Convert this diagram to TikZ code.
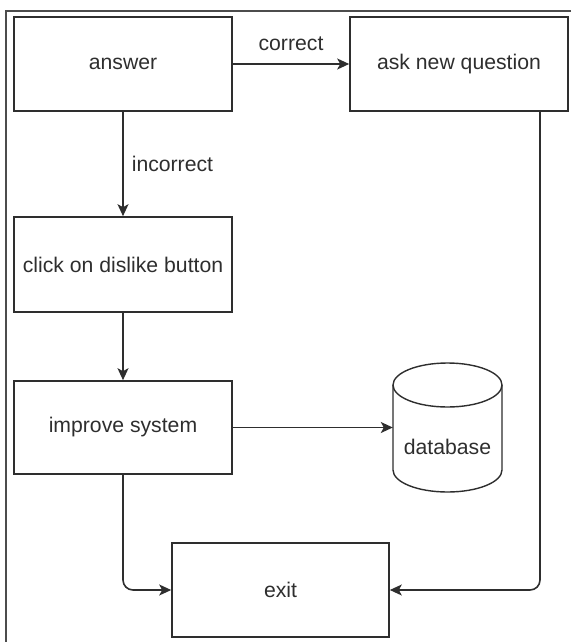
\documentclass[tikz,border=0pt]{standalone}
\usepackage{fontspec}
\setmainfont{Liberation Sans}
\usetikzlibrary{arrows.meta}
\definecolor{ink}{HTML}{2E2E2E}
\tikzset{
  box/.style={draw=ink, line width=1.6pt, rectangle, minimum width=218pt, minimum height=94pt, inner sep=0pt, text=ink, font=\fontsize{21.2}{25}\selectfont},
  conn/.style={draw=ink, line width=1.6pt, -{Stealth[length=12pt,width=11pt,inset=3pt]}},
  lbl/.style={text=ink, font=\fontsize{21.2}{25}\selectfont, inner sep=0pt},
  frame/.style={draw=black!70, line width=2.2pt}
}
\begin{document}
\begin{tikzpicture}[x=1pt,y=1pt]
\useasboundingbox (0,0) rectangle (571,-642);
% outer frame
\coordinate (ftl) at (6,-11);
\coordinate (ftr) at (571,-11);
\coordinate (fbl) at (6,-642);
\draw[frame] (ftr) -- (ftl) -- (fbl);
% nodes
\node[box] (answer) at (123,-64) {answer};
\node[box] (ask) at (459,-64) {ask new question};
\node[box, minimum height=95pt] (click) at (123,-264.5) {click on dislike button};
\node[box, minimum height=93pt] (improve) at (123,-427.5) {improve system};
\node[box, minimum width=217pt] (exit) at (280.5,-590) {exit};
% database cylinder
\node[minimum width=109pt, minimum height=129pt, inner sep=0pt] (db) at (447.5,-427.5) {};
\draw[draw=ink, line width=1.4pt, fill=white]
  (393,-385) -- (393,-470) arc (180:360:54.5pt and 22pt) -- (502,-385);
\draw[draw=ink, line width=1.4pt] (447.5,-385) ellipse (54.5pt and 22pt);
\node[lbl] (dblabel) at (447.5,-447) {database};
% connectors
\draw[conn] (answer) -- node[lbl, above=12pt] {correct} (ask);
\draw[conn] (answer) -- node[lbl, right=8pt, pos=0.5] {incorrect} (click);
\draw[conn] (click) -- (improve);
\draw[conn] (improve) -- (db.west);
\coordinate (askdown) at (540,-111);
\draw[conn, rounded corners=10pt] (askdown) |- (exit.east);
\draw[conn, rounded corners=10pt] (improve.south) |- (exit.west);
\end{tikzpicture}
\end{document}
